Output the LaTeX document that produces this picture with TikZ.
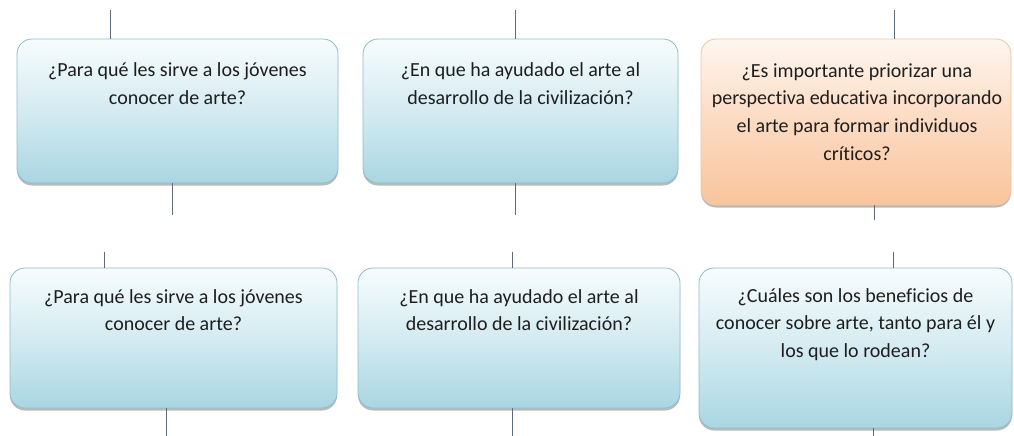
\documentclass[tikz,border=0pt]{standalone}
\usepackage{fontspec}
\setmainfont{Carlito}[Ligatures=NoCommon]
\usetikzlibrary{shadows}
\definecolor{bluetop}{HTML}{F7FCFD}
\definecolor{bluebot}{HTML}{A9D6E2}
\definecolor{blueline}{HTML}{8FBCCA}
\definecolor{orgtop}{HTML}{FEF6EF}
\definecolor{orgbot}{HTML}{F9C49C}
\definecolor{orgline}{HTML}{EEC6A6}
\definecolor{linkcol}{HTML}{5C6B7A}
\definecolor{txt}{HTML}{1E1E1E}
\tikzset{
  qbox/.style={draw=blueline, line width=0.8pt, rounded corners=15pt,
    top color=bluetop, bottom color=bluebot, middle color=bluetop!55!bluebot,
    drop shadow={shadow xshift=0pt, shadow yshift=-2.5pt, opacity=0.45, fill=black!60},
    inner sep=0pt},
  obox/.style={qbox, draw=orgline, top color=orgtop, bottom color=orgbot, middle color=orgtop!45!orgbot},
  qtext/.style={anchor=base, align=center, text=txt, inner sep=0pt,
    font=\fontsize{20pt}{27.7pt}\selectfont},
  link/.style={draw=linkcol, line width=1pt}
}
\begin{document}
\begin{tikzpicture}[x=1pt,y=-1pt]
\useasboundingbox (0,0) rectangle (1014,436);
% boxes
\node[qbox, minimum width=321pt, minimum height=144pt] (b1) at (177.5,111) {};
\node[qbox, minimum width=315pt, minimum height=144pt] (b2) at (520.5,111) {};
\node[obox, minimum width=310pt, minimum height=166pt] (b3) at (856,122) {};
\node[qbox, minimum width=327pt, minimum height=140pt] (b4) at (173.5,338) {};
\node[qbox, minimum width=322pt, minimum height=140pt] (b5) at (519,338) {};
\node[qbox, minimum width=313pt, minimum height=160pt] (b6) at (855.5,348) {};
% texts (anchored at the baseline of their last line)
\node[qtext] (t1) at (177.5,104.7) {¿Para qué les sirve a los jóvenes\\conocer de arte?};
\node[qtext] (t2) at (520.5,104.7) {¿En que ha ayudado el arte al\\desarrollo de la civilización?};
\node[qtext] (t3) at (857,160.1) {¿Es importante priorizar una\\perspectiva educativa incorporando\\el arte para formar individuos\\críticos?};
\node[qtext] (t4) at (173.5,330.7) {¿Para qué les sirve a los jóvenes\\conocer de arte?};
\node[qtext] (t5) at (519,330.7) {¿En que ha ayudado el arte al\\desarrollo de la civilización?};
\node[qtext] (t6) at (855.5,357.4) {¿Cuáles son los beneficios de\\conocer sobre arte, tanto para él y\\los que lo rodean?};
% free ends
\coordinate (a1) at (110,10);
\coordinate (a2) at (515,10);
\coordinate (a3) at (894,10);
\coordinate (d1) at (172,215);
\coordinate (d2) at (515,215);
\coordinate (d3) at (874,220);
\coordinate (a4) at (104,252);
\coordinate (a5) at (512,252);
\coordinate (a6) at (893,252);
\coordinate (d4) at (166,436);
\coordinate (d5) at (512,436);
\coordinate (d6) at (873,436);
% connectors
\draw[link] (a1) -- (a1 |- b1.north);
\draw[link] (a2) -- (a2 |- b2.north);
\draw[link] (a3) -- (a3 |- b3.north);
\draw[link] (d1 |- b1.south) -- (d1);
\draw[link] (d2 |- b2.south) -- (d2);
\draw[link] (d3 |- b3.south) -- (d3);
\draw[link] (a4) -- (a4 |- b4.north);
\draw[link] (a5) -- (a5 |- b5.north);
\draw[link] (a6) -- (a6 |- b6.north);
\draw[link] (d4 |- b4.south) -- (d4);
\draw[link] (d5 |- b5.south) -- (d5);
\draw[link] (d6 |- b6.south) -- (d6);
\end{tikzpicture}
\end{document}
